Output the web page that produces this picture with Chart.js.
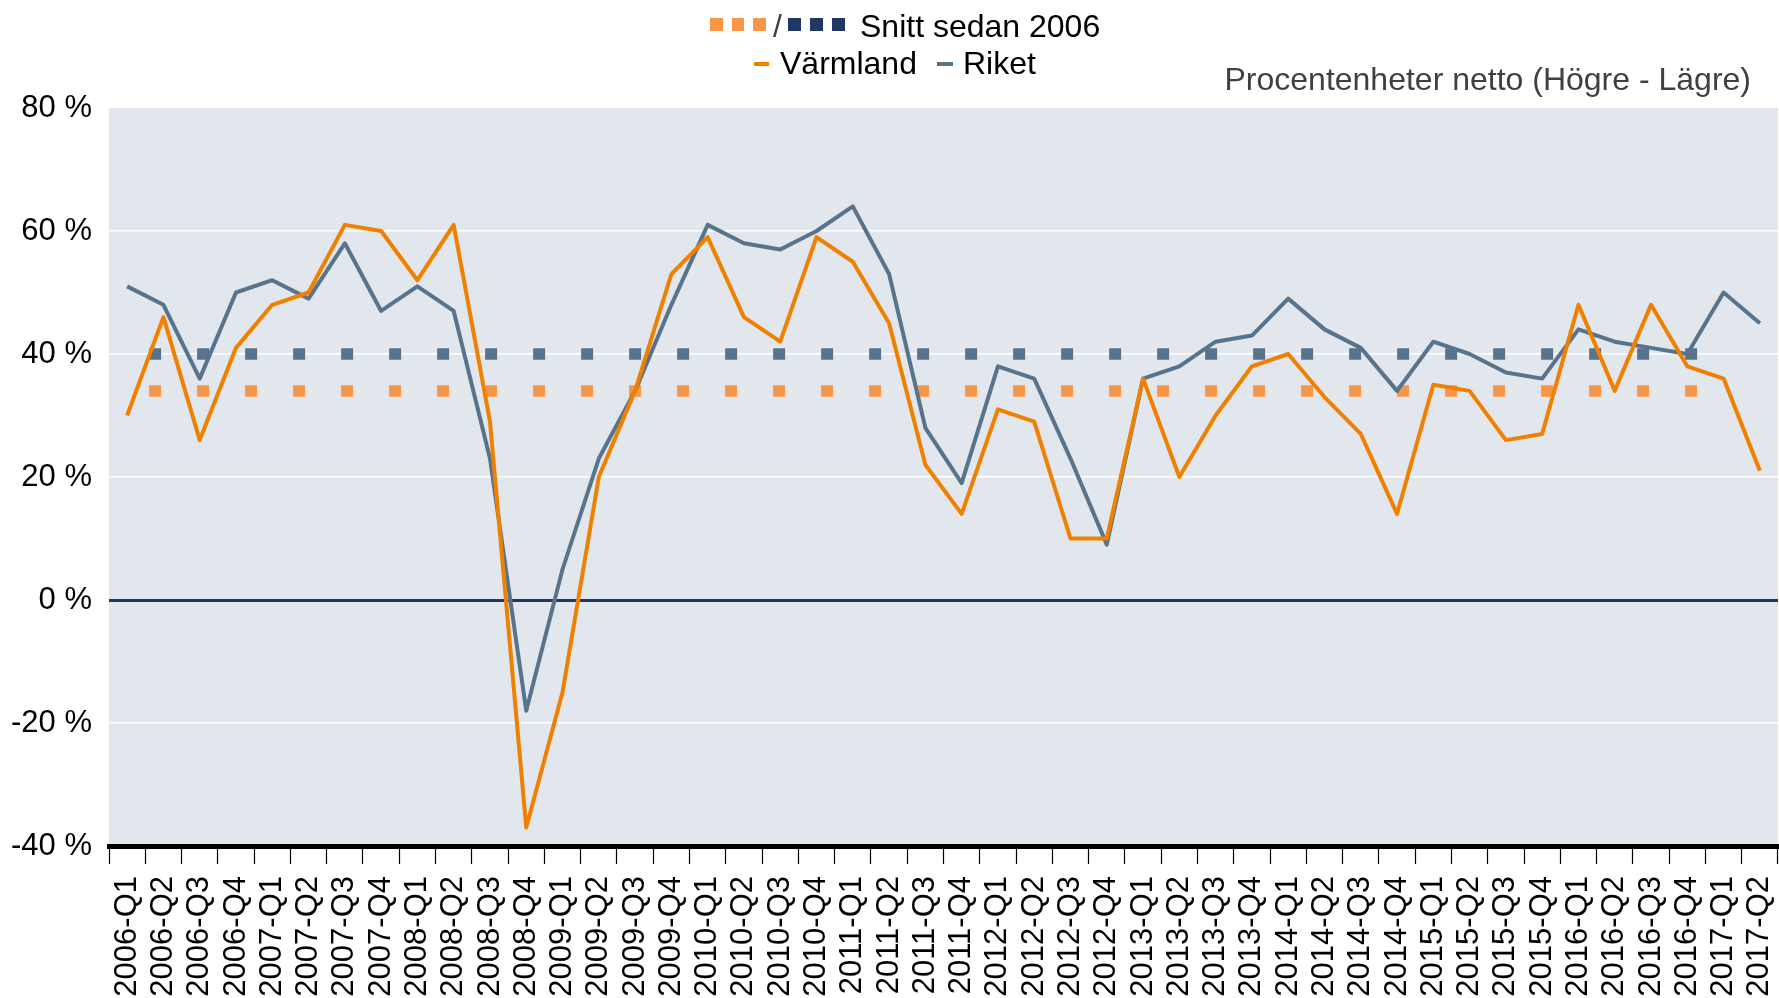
<!DOCTYPE html>
<html>
<head>
<meta charset="utf-8">
<script src="https://cdn.jsdelivr.net/npm/chart.js@4/dist/chart.umd.min.js"></script>
<style>
  html, body { margin: 0; padding: 0; background: #ffffff; }
  #wrap { position: relative; width: 1779px; height: 998px; overflow: hidden; }
  #wrap canvas { position: absolute; left: 0; top: 0; }
  .txt { position: absolute; font-family: 'Liberation Sans', Arial, sans-serif; font-size: 32px; line-height: 32px; white-space: nowrap; }
  .mk { position: absolute; }
</style>
</head>
<body>
<div id="wrap">
  <canvas id="c" width="1779" height="998"></canvas>
  <!-- legend line 1 -->
  <div class="mk" style="left:710px;top:18px;width:12.5px;height:13px;background:#F79646"></div>
  <div class="mk" style="left:731.5px;top:18px;width:12.5px;height:13px;background:#F79646"></div>
  <div class="mk" style="left:753px;top:18px;width:12.5px;height:13px;background:#F79646"></div>
  <div class="txt" style="left:773px;top:10px;color:#404040">/</div>
  <div class="mk" style="left:788px;top:18px;width:12.5px;height:13px;background:#1F3864"></div>
  <div class="mk" style="left:810px;top:18px;width:12.5px;height:13px;background:#1F3864"></div>
  <div class="mk" style="left:832px;top:18px;width:12.5px;height:13px;background:#1F3864"></div>
  <div class="txt" style="left:860px;top:10px;color:#000">Snitt sedan 2006</div>
  <!-- legend line 2 -->
  <div class="mk" style="left:754px;top:62px;width:15px;height:4px;background:#F08100"></div>
  <div class="txt" style="left:780px;top:47px;color:#000">Värmland</div>
  <div class="mk" style="left:937px;top:62px;width:16px;height:4px;background:#58748C"></div>
  <div class="txt" style="left:963px;top:47px;color:#000">Riket</div>
  <!-- unit note -->
  <div class="txt" style="right:28px;top:63px;color:#404040">Procentenheter netto (Högre - Lägre)</div>
</div>
<script>
const quarters = [
  "2006-Q1","2006-Q2","2006-Q3","2006-Q4",
  "2007-Q1","2007-Q2","2007-Q3","2007-Q4",
  "2008-Q1","2008-Q2","2008-Q3","2008-Q4",
  "2009-Q1","2009-Q2","2009-Q3","2009-Q4",
  "2010-Q1","2010-Q2","2010-Q3","2010-Q4",
  "2011-Q1","2011-Q2","2011-Q3","2011-Q4",
  "2012-Q1","2012-Q2","2012-Q3","2012-Q4",
  "2013-Q1","2013-Q2","2013-Q3","2013-Q4",
  "2014-Q1","2014-Q2","2014-Q3","2014-Q4",
  "2015-Q1","2015-Q2","2015-Q3","2015-Q4",
  "2016-Q1","2016-Q2","2016-Q3","2016-Q4",
  "2017-Q1","2017-Q2"
];

const varmland = [
  30, 46, 26, 41,
  48, 50, 61, 60,
  52, 61, 29, -37,
  -15, 20, 34, 53,
  59, 46, 42, 59,
  55, 45, 22, 14,
  31, 29, 10, 10,
  36, 20, 30, 38,
  40, 33, 27, 14,
  35, 34, 26, 27,
  48, 34, 48, 38,
  36, 21
];

const riket = [
  51, 48, 36, 50,
  52, 49, 58, 47,
  51, 47, 23, -18,
  5, 23, 34, 48,
  61, 58, 57, 60,
  64, 53, 28, 19,
  38, 36, 23, 9,
  36, 38, 42, 43,
  49, 44, 41, 34,
  42, 40, 37, 36,
  44, 42, 41, 40,
  50, 45
];

const snittVarmland = [
  34, 34, 34, 34, 34, 34, 34, 34, 34, 34, 34, 34,
  34, 34, 34, 34, 34, 34, 34, 34, 34, 34, 34, 34,
  34, 34, 34, 34, 34, 34, 34, 34, 34, 34, 34, 34,
  34, 34, 34, 34, 34, 34, 34, 34, 34
];

const snittRiket = [
  40, 40, 40, 40, 40, 40, 40, 40, 40, 40, 40, 40,
  40, 40, 40, 40, 40, 40, 40, 40, 40, 40, 40, 40,
  40, 40, 40, 40, 40, 40, 40, 40, 40, 40, 40, 40,
  40, 40, 40, 40, 40, 40, 40, 40, 40
];

const yTicks = [-40, -20, 0, 20, 40, 60, 80];

const plotBg = {
  id: 'plotBg',
  beforeDraw(chart) {
    const a = chart.chartArea;
    const ctx = chart.ctx;
    ctx.save();
    ctx.fillStyle = '#E2E7EE';
    ctx.fillRect(a.left, a.top, a.right - a.left, a.bottom - a.top);
    ctx.restore();
  }
};

const FONT = "'Liberation Sans', Arial, sans-serif";

new Chart(document.getElementById('c'), {
  type: 'line',
  data: {
    labels: quarters,
    datasets: [
      {
        label: 'Värmland', data: varmland, order: 0,
        borderColor: '#F08100', borderWidth: 4, pointRadius: 0,
        tension: 0, borderJoinStyle: 'round', fill: false
      },
      {
        label: 'Riket', data: riket, order: 1,
        borderColor: '#58748C', borderWidth: 4, pointRadius: 0,
        tension: 0, borderJoinStyle: 'round', fill: false
      },
      {
        label: 'Snitt Riket', data: snittRiket, order: 2,
        borderColor: '#58748C', borderWidth: 11.5, pointRadius: 0,
        borderDash: [12, 36], borderDashOffset: 26, borderCapStyle: 'butt', fill: false
      },
      {
        label: 'Snitt Värmland', data: snittVarmland, order: 3,
        borderColor: '#F79646', borderWidth: 11.5, pointRadius: 0,
        borderDash: [12, 36], borderDashOffset: 26, borderCapStyle: 'butt', fill: false
      }
    ]
  },
  options: {
    responsive: false,
    animation: false,
    devicePixelRatio: 1,
    layout: { padding: { top: 108, right: 1, bottom: 0, left: 0 } },
    plugins: { legend: { display: false }, tooltip: { enabled: false } },
    scales: {
      x: {
        type: 'category',
        offset: true,
        grid: {
          offset: true, drawOnChartArea: false, drawTicks: true,
          tickLength: 18, tickColor: '#000', tickWidth: 1.2
        },
        border: { display: true, color: '#000', width: 5 },
        ticks: {
          autoSkip: false, maxRotation: 90, minRotation: 90, padding: 12,
          color: '#000', font: { family: FONT, size: 31 }
        },
        afterFit(scale) {
          scale.height = 152;
          scale.paddingLeft = 0;
          scale.paddingRight = 0;
        }
      },
      y: {
        min: -40, max: 80,
        afterBuildTicks(scale) { scale.ticks = yTicks.map(v => ({ value: v })); },
        grid: {
          drawTicks: false,
          color(ctx) {
            const v = ctx.tick && ctx.tick.value;
            if (v === 0) return '#1F3864';
            if (v === -40 || v === 80) return 'rgba(0,0,0,0)';
            return '#FFFFFF';
          },
          lineWidth(ctx) {
            const v = ctx.tick && ctx.tick.value;
            return v === 0 ? 3 : 1.5;
          }
        },
        border: { display: false },
        ticks: {
          padding: 17, color: '#000', font: { family: FONT, size: 31 },
          callback: v => v + ' %'
        },
        afterFit(scale) {
          scale.width = 109;
          scale.paddingTop = 0;
          scale.paddingBottom = 0;
        }
      }
    }
  },
  plugins: [plotBg]
});
</script>
</body>
</html>
